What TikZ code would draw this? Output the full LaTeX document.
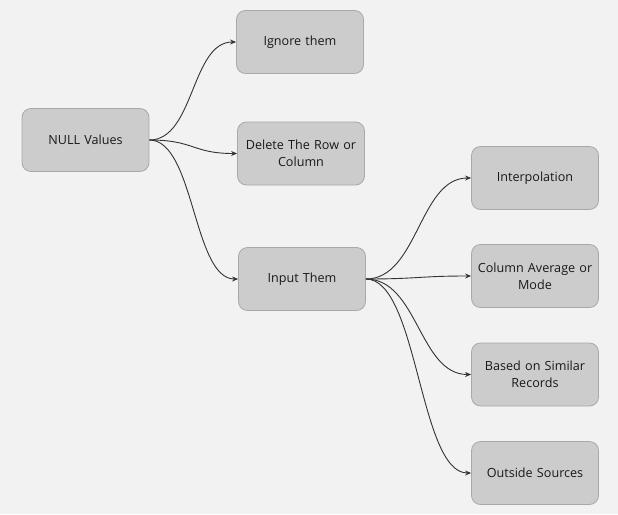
\documentclass[tikz,border=0pt]{standalone}
\usepackage{fontspec}
\setmainfont{Open Sans}
\usetikzlibrary{arrows.meta}
\definecolor{bg}{HTML}{F2F2F2}
\definecolor{boxfill}{HTML}{CCCCCC}
\definecolor{boxline}{HTML}{A8A8B2}
\definecolor{lineclr}{HTML}{333333}
\begin{document}
\begin{tikzpicture}[x=1pt,y=-1pt,
  box/.style={draw=boxline, fill=boxfill, line width=0.8pt, rounded corners=9pt,
    minimum width=127pt, minimum height=63pt, align=center, text width=124pt,
    inner sep=0pt, font=\fontsize{12.6}{17}\selectfont, text=black!90},
  conn/.style={draw=lineclr, line width=0.9pt, -{Stealth[length=6pt,width=5pt]}}]
\fill[bg] (0,0) rectangle (618,514);
\useasboundingbox (0,0) rectangle (618,514);
\node[box] (null) at (85.5,140) {NULL Values};
\node[box] (ignore) at (300,42) {Ignore them};
\node[box] (delete) at (301,153.5) {Delete The Row or\\Column};
\node[box] (input) at (302,279) {Input Them};
\node[box] (interp) at (535,178) {Interpolation};
\node[box] (colavg) at (535,276) {Column Average or\\Mode};
\node[box] (similar) at (535,374.5) {Based on Similar\\Records};
\node[box] (outside) at (535,473) {Outside Sources};
\draw[conn] (null.east) .. controls +(45,0) and +(-45,0) .. (ignore.west);
\draw[conn] (null.east) .. controls +(45,0) and +(-45,0) .. (delete.west);
\draw[conn] (null.east) .. controls +(45,0) and +(-45,0) .. (input.west);
\draw[conn] (input.east) .. controls +(52,0) and +(-52,0) .. (interp.west);
\draw[conn] (input.east) .. controls +(52,0) and +(-52,0) .. (colavg.west);
\draw[conn] (input.east) .. controls +(52,0) and +(-52,0) .. (similar.west);
\draw[conn] (input.east) .. controls +(52,0) and +(-52,0) .. (outside.west);
\end{tikzpicture}
\end{document}
